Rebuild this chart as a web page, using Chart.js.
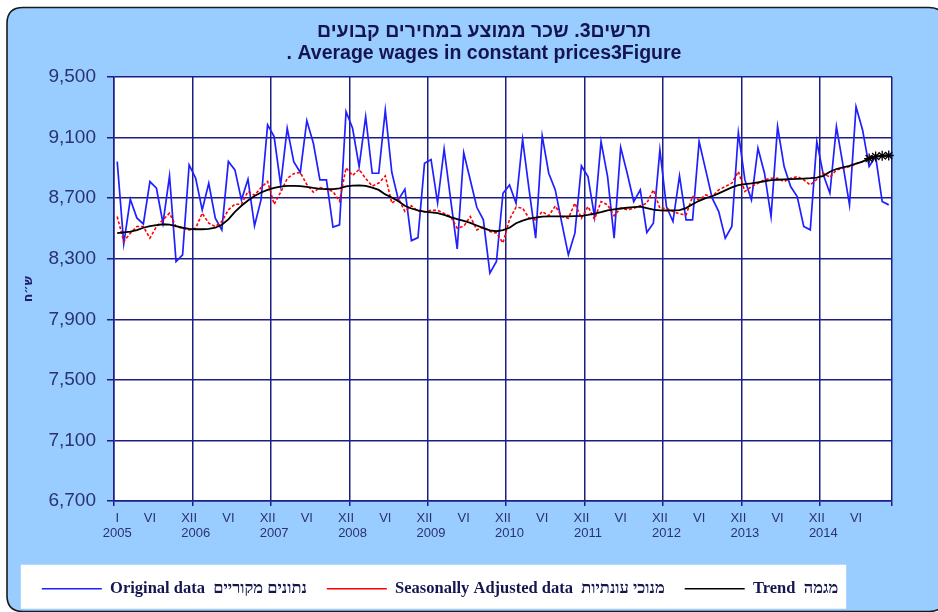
<!DOCTYPE html>
<html>
<head>
<meta charset="utf-8">
<script src="https://cdn.jsdelivr.net/npm/chart.js@4/dist/chart.umd.min.js"></script>
<style>
html,body{margin:0;padding:0;background:#fff;}
#c{display:block;}
</style>
</head>
<body>
<canvas id="c" width="938" height="612"></canvas>
<script>
// ---- data (monthly, Jan 2005 – Nov 2014) ----
const firstYear = 2005;
const monthCount = 119;

const originalData = [
  8942, 8399, 8693, 8570, 8530, 8810, 8766, 8535, 8847, 8282,
  8326, 8920, 8832, 8623, 8799, 8568, 8491, 8942, 8887, 8689,
  8825, 8518, 8690, 9184, 9107, 8788, 9162, 8942, 8870, 9212,
  9063, 8821, 8821, 8509, 8524, 9271, 9162, 8909, 9238, 8865,
  8865, 9282, 8870, 8690, 8760, 8420, 8440, 8930, 8955, 8670,
  9025, 8690, 8365, 9000, 8820, 8640, 8557, 8205, 8282, 8733,
  8788, 8667, 9089, 8755, 8436, 9111, 8865, 8755, 8535, 8326,
  8469, 8913, 8843, 8579, 9074, 8843, 8436, 9036, 8865, 8678,
  8755, 8474, 8535, 9019, 8645, 8546, 8847, 8557, 8557, 9074,
  8887, 8700, 8612, 8436, 8513, 9133, 8821, 8689, 9030, 8865,
  8579, 9173, 8909, 8777, 8711, 8513, 8491, 9074, 8854, 8733,
  9173, 8920, 8656, 9304, 9151, 8909, 8975, 8678, 8656
];

const seasonallyAdjusted = [
  8579, 8414, 8469, 8513, 8513, 8436, 8513, 8557, 8601, 8513,
  8502, 8491, 8502, 8601, 8535, 8513, 8546, 8623, 8660, 8660,
  8745, 8720, 8770, 8810, 8660, 8740, 8830, 8862, 8870, 8790,
  8740, 8770, 8760, 8745, 8680, 8900, 8850, 8890, 8830, 8780,
  8800, 8847, 8667, 8700, 8612, 8650, 8615, 8610, 8620, 8620,
  8600, 8579, 8502, 8515, 8579, 8491, 8510, 8480, 8470, 8405,
  8560, 8641, 8634, 8568, 8557, 8612, 8584, 8649, 8579, 8568,
  8667, 8568, 8645, 8562, 8678, 8656, 8584, 8634, 8623, 8634,
  8650, 8667, 8755, 8634, 8634, 8612, 8597, 8590, 8711, 8689,
  8722, 8711, 8755, 8777, 8799, 8876, 8744, 8777, 8799, 8821,
  8832, 8832, 8810, 8832, 8843, 8821, 8788, 8825, 8865, 8838,
  8887, 8898, 8909, 8926, 8942, 8975, 8985, 8980, 8985
];

const trendData = [
  8470, 8475, 8480, 8490, 8505, 8515, 8522, 8528, 8525, 8515,
  8505, 8498, 8495, 8495, 8497, 8505, 8525, 8560, 8610, 8650,
  8685, 8715, 8738, 8755, 8768, 8776, 8781, 8782, 8780, 8775,
  8768, 8762, 8760, 8760, 8765, 8778, 8783, 8785, 8782, 8770,
  8755, 8725, 8705, 8680, 8650, 8632, 8620, 8612, 8607, 8602,
  8590, 8575, 8562, 8550, 8537, 8520, 8503, 8488, 8482, 8490,
  8505, 8535, 8552, 8565, 8572, 8578, 8580, 8580, 8580, 8580,
  8582, 8584, 8590, 8598, 8608, 8620, 8627, 8632, 8637, 8641,
  8644, 8635, 8625, 8620, 8619, 8620, 8622, 8635, 8660, 8683,
  8700, 8713, 8732, 8752, 8772, 8786, 8793, 8798, 8805, 8812,
  8820, 8822, 8824, 8826, 8828, 8830, 8832, 8836, 8848, 8875,
  8893, 8903, 8913, 8928, 8942, 8962, 8975, 8980, 8982
];

// months of the trend that are drawn with star markers (provisional estimates)
const trendMarkedFrom = 115;

const romanMonths = ['I','II','III','IV','V','VI','VII','VIII','IX','X','XI','XII'];
const yTicks = { min: 6700, max: 9500, step: 400 };

const titleLines = ['תרשים3. שכר ממוצע במחירים קבועים', '. Average wages in constant prices3Figure'];
const yAxisTitle = 'ש״ח';
const seriesNames = [
  'Original data  נתונים מקוריים',
  'Seasonally Adjusted data  מנוכי עונתיות',
  'Trend  מגמה'
];

const categories = [];
for (let i = 0; i < monthCount; i++) {
  categories.push(romanMonths[i % 12] + ' ' + (firstYear + Math.floor(i / 12)));
}

// ---- styling ----
const NAVY = '#1d1d86';
const TEXT = '#2a3272';
const PAGE_BLUE = '#99CCFF';
const TITLE_SHIFT = 32;   // the original chart object is wider than the visible crop
const LEGEND_SHIFT = -12;

const backgroundPlugin = {
  id: 'backgroundPlugin',
  afterLayout(chart) {
    const t = chart.titleBlock;
    if (t) { t.left += TITLE_SHIFT; t.right += TITLE_SHIFT; }
    const lg = chart.legend;
    if (lg) { lg.left += LEGEND_SHIFT; lg.right += LEGEND_SHIFT; }
  },
  beforeDraw(chart) {
    const ctx = chart.ctx;
    const a = chart.chartArea;
    ctx.save();
    ctx.fillStyle = '#ffffff';
    ctx.fillRect(0, 0, chart.width, chart.height);
    // rounded outer frame
    const x = 7, y = 7.5, w = 945 - 7, h = 611.5 - 7.5, r = 16;
    ctx.beginPath();
    ctx.moveTo(x + r, y);
    ctx.lineTo(x + w - r, y);
    ctx.quadraticCurveTo(x + w, y, x + w, y + r);
    ctx.lineTo(x + w, y + h - r);
    ctx.quadraticCurveTo(x + w, y + h, x + w - r, y + h);
    ctx.lineTo(x + r, y + h);
    ctx.quadraticCurveTo(x, y + h, x, y + h - r);
    ctx.lineTo(x, y + r);
    ctx.quadraticCurveTo(x, y, x + r, y);
    ctx.closePath();
    ctx.fillStyle = PAGE_BLUE;
    ctx.fill();
    ctx.lineWidth = 1.6;
    ctx.strokeStyle = '#1a1a1a';
    ctx.stroke();
    // plot area
    ctx.fillStyle = '#ffffff';
    ctx.fillRect(a.left, a.top, a.right - a.left, a.bottom - a.top);
    // legend box
    const lg = chart.legend;
    if (lg && lg.lineWidths && lg.legendHitBoxes && lg.legendHitBoxes.length) {
      const pad = lg.options.labels.padding;
      const itemsW = lg.lineWidths[0] - pad;
      const cx = (lg.left + lg.right) / 2;
      const hb = lg.legendHitBoxes[0];
      const cy = hb.top + hb.height / 2;
      ctx.fillStyle = '#ffffff';
      ctx.fillRect(cx - itemsW / 2 - 21, cy - 24, itemsW + 29, 44);
    }
    ctx.restore();
  }
};

new Chart(document.getElementById('c'), {
  type: 'line',
  data: {
    labels: categories,
    datasets: [
      {
        label: seriesNames[0],
        data: originalData,
        borderColor: '#1f1fff',
        backgroundColor: '#1f1fff',
        borderWidth: 1.7,
        pointRadius: 0,
        tension: 0,
        order: 3
      },
      {
        label: seriesNames[1],
        data: seasonallyAdjusted,
        borderColor: '#ff0000',
        backgroundColor: '#ff0000',
        borderWidth: 1.6,
        borderDash: [3, 2],
        pointRadius: 0,
        tension: 0,
        order: 2
      },
      {
        label: seriesNames[2],
        data: trendData,
        borderColor: '#000000',
        backgroundColor: '#000000',
        borderWidth: 1.8,
        pointStyle: 'star',
        pointRadius: (c) => (c.dataIndex >= trendMarkedFrom ? 5 : 0),
        pointBorderColor: '#000000',
        pointBorderWidth: 1.3,
        tension: 0,
        order: 1
      }
    ]
  },
  options: {
    responsive: false,
    animation: false,
    events: [],
    devicePixelRatio: 1,
    layout: { padding: { left: 12, right: 46, top: 7, bottom: 5 } },
    plugins: {
      tooltip: { enabled: false },
      title: {
        display: true,
        text: titleLines,
        color: '#141450',
        font: { family: "'Liberation Sans', Arial, sans-serif", weight: 'bold', size: 19.5, lineHeight: 1.13 },
        padding: { top: 14, bottom: 12 }
      },
      legend: {
        position: 'bottom',
        labels: {
          usePointStyle: true,
          pointStyle: 'line',
          pointStyleWidth: 60,
          boxHeight: 16,
          padding: 20,
          color: '#15154f',
          font: { family: "'Liberation Serif', 'Times New Roman', serif", weight: 'bold', size: 16.5 },
          sort: (a, b) => a.datasetIndex - b.datasetIndex
        }
      }
    },
    scales: {
      x: {
        type: 'category',
        offset: true,
        grid: {
          offset: true,
          drawOnChartArea: true,
          drawTicks: true,
          tickLength: 5,
          lineWidth: 1.5,
          color: (c) => (c.index === undefined || c.index % 12 === 0) ? NAVY : 'rgba(0,0,0,0)'
        },
        border: { display: true, color: NAVY, width: 1.5 },
        ticks: {
          autoSkip: false,
          maxRotation: 0,
          minRotation: 0,
          padding: 5,
          color: TEXT,
          font: { family: "'Liberation Sans', Arial, sans-serif", size: 13, lineHeight: 1.17 },
          callback: function (value, index) {
            const m = index % 12;
            const yr = firstYear + Math.floor(index / 12);
            if (index === 0) return [romanMonths[0], String(yr)];
            if (m === 5) return romanMonths[5];
            if (m === 11) return romanMonths[11];
            if (m === 0) return ['', String(yr)];
            return '';
          }
        },
        afterFit: (scale) => { scale.height += 14; }
      },
      y: {
        min: yTicks.min,
        max: yTicks.max,
        grid: {
          color: NAVY,
          lineWidth: 1.5,
          drawTicks: true,
          tickLength: 7
        },
        border: { display: true, color: NAVY, width: 1.5 },
        ticks: {
          stepSize: yTicks.step,
          padding: 11,
          color: TEXT,
          font: { family: "'Liberation Sans', Arial, sans-serif", size: 19 },
          callback: (v) => v.toLocaleString('en-US')
        },
        title: {
          display: true,
          text: yAxisTitle,
          color: '#1d1d6a',
          font: { family: "'DejaVu Sans', sans-serif", weight: 'bold', size: 12, lineHeight: 1.2 },
          padding: { top: 10, bottom: 1 }
        }
      }
    }
  },
  plugins: [backgroundPlugin]
});
</script>
</body>
</html>
